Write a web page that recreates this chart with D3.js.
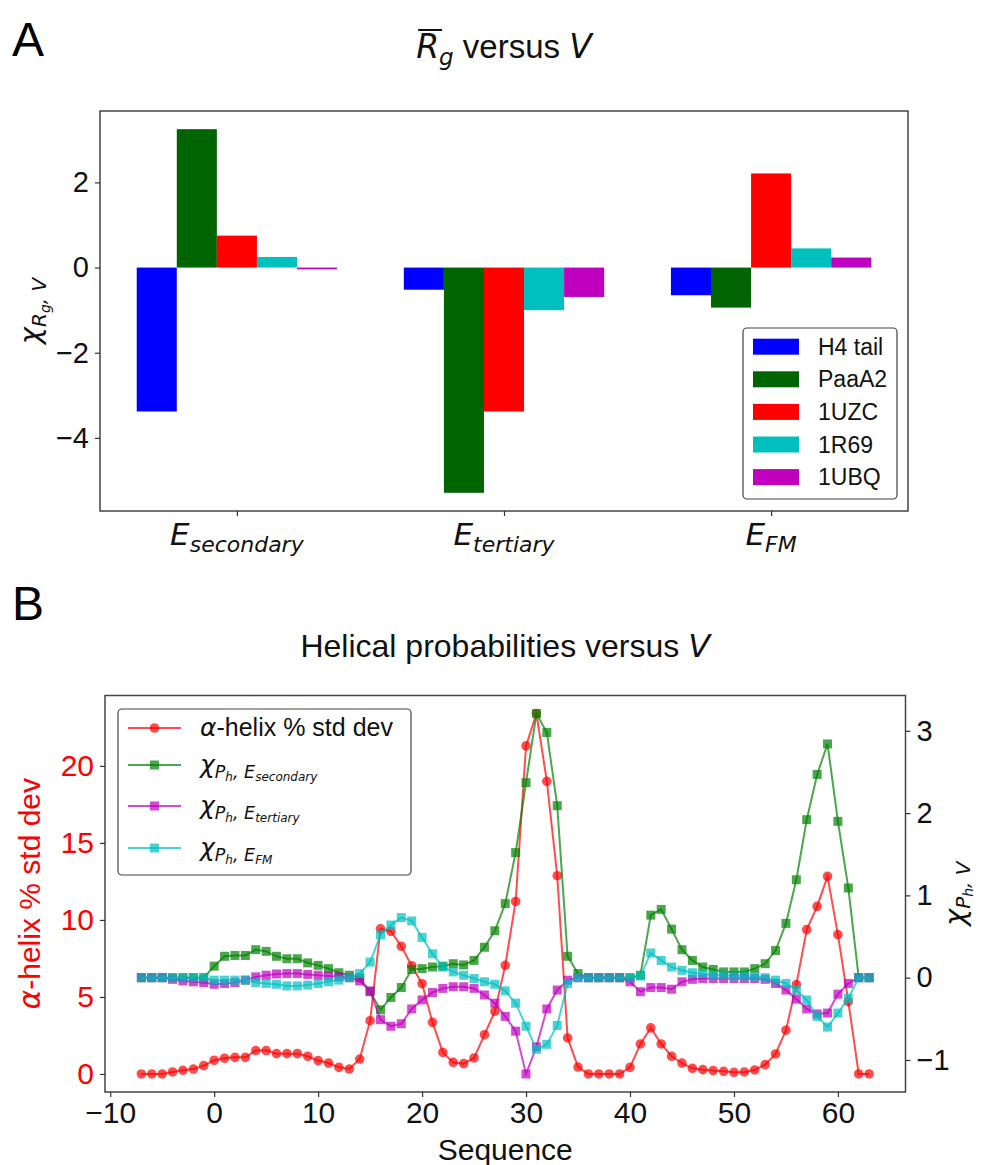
<!DOCTYPE html>
<html>
<head>
<meta charset="utf-8">
<script src="https://cdn.jsdelivr.net/npm/d3@7"></script>
<style>
body { margin: 0; background: #fff; }
</style>
</head>
<body>
<script>
// Panel A: chi_{Rg,V} for each energy term and protein
var terms = ["secondary", "tertiary", "FM"];
var proteins = ["H4 tail", "PaaA2", "1UZC", "1R69", "1UBQ"];
var h4tail = [-3.38, -0.52, -0.65];
var paaA2 = [3.25, -5.29, -0.94];
var uzc = [0.75, -3.38, 2.21];
var r69 = [0.25, -1.0, 0.45];
var ubq = [-0.04, -0.69, 0.235];
var barColors = ["#0000ff", "#006400", "#ff0000", "#00bfbf", "#bf00bf"];
var barTicks = [-4, -2, 0, 2];

// Panel B: helical probabilities along the sequence
var sequence = [-7, -6, -5, -4, -3, -2, -1, 0, 1, 2,
    3, 4, 5, 6, 7, 8, 9, 10, 11, 12,
    13, 14, 15, 16, 17, 18, 19, 20, 21, 22,
    23, 24, 25, 26, 27, 28, 29, 30, 31, 32,
    33, 34, 35, 36, 37, 38, 39, 40, 41, 42,
    43, 44, 45, 46, 47, 48, 49, 50, 51, 52,
    53, 54, 55, 56, 57, 58, 59, 60, 61, 62,
    63];
var helixStd = [0, 0, 0, 0.13, 0.24, 0.32, 0.54, 0.89, 1.02, 1.08,
    1.08, 1.52, 1.52, 1.32, 1.32, 1.32, 1.15, 0.87, 0.71, 0.43,
    0.32, 0.97, 3.46, 9.42, 9.26, 8.29, 7.03, 5.86, 3.35, 1.40,
    0.75, 0.67, 1.04, 2.55, 4.07, 7.05, 11.2, 21.3, 23.4, 19.0,
    12.87, 2.34, 0.45, 0, 0, 0, 0, 0.43, 1.95, 2.99,
    1.95, 1.15, 0.71, 0.37, 0.28, 0.22, 0.17, 0.11, 0.13, 0.26,
    0.61, 1.30, 2.84, 5.80, 9.37, 10.88, 12.83, 9.05, 4.7, 0,
    0];
var chiSecondary = [0, 0, 0, 0, 0, 0, 0, 0.14, 0.26, 0.27,
    0.27, 0.34, 0.32, 0.26, 0.23, 0.23, 0.18, 0.15, 0.11, 0.06,
    0.03, 0, -0.17, -0.39, -0.24, -0.12, 0.10, 0.11, 0.13, 0.14,
    0.17, 0.155, 0.21, 0.37, 0.57, 0.90, 1.52, 2.37, 3.21, 2.98,
    2.09, 0.26, 0.05, 0, 0, 0, 0, 0, 0.03, 0.76,
    0.83, 0.59, 0.34, 0.21, 0.13, 0.10, 0.07, 0.07, 0.07, 0.11,
    0.17, 0.33, 0.66, 1.19, 1.92, 2.47, 2.84, 1.90, 1.09, 0,
    0];
var chiTertiary = [0, 0, 0, -0.02, -0.04, -0.05, -0.06, -0.08, -0.07, -0.06,
    -0.03, 0.01, 0.03, 0.045, 0.05, 0.05, 0.04, 0.03, 0.02, 0.01,
    0, -0.04, -0.16, -0.51, -0.59, -0.56, -0.38, -0.27, -0.18, -0.13,
    -0.11, -0.11, -0.13, -0.21, -0.31, -0.47, -0.65, -1.17, -0.84, -0.38,
    -0.15, -0.03, 0, 0, 0, 0, 0, -0.05, -0.17, -0.12,
    -0.12, -0.14, -0.05, -0.02, -0.01, -0.01, -0.01, -0.01, -0.01, -0.01,
    -0.02, -0.07, -0.15, -0.26, -0.38, -0.44, -0.43, -0.2, -0.07, 0,
    0];
var chiFM = [0, 0, 0, 0, 0, 0, 0, -0.03, -0.03, -0.03,
    -0.03, -0.06, -0.07, -0.08, -0.1, -0.1, -0.09, -0.07, -0.05, -0.03,
    0, 0.05, 0.19, 0.52, 0.64, 0.73, 0.69, 0.49, 0.29, 0.13,
    0.07, 0.03, -0.01, -0.05, -0.08, -0.16, -0.31, -0.59, -0.87, -0.81,
    -0.58, -0.07, 0, 0, 0, 0, 0, 0, 0.02, 0.30,
    0.21, 0.13, 0.09, 0.06, 0.05, 0.03, 0.03, 0.02, 0.02, 0.01,
    0, -0.03, -0.07, -0.15, -0.27, -0.47, -0.6, -0.43, -0.25, 0,
    0];
var seqTicks = [-10, 0, 10, 20, 30, 40, 50, 60];
var stdTicks = [0, 5, 10, 15, 20];
var chiTicks = [-1, 0, 1, 2, 3];

var width = 986, height = 1165;
var sans = "'Liberation Sans', Arial, sans-serif";
var ital = "'DejaVu Sans', sans-serif";
var intFmt = d3.format("d");

var svg = d3.select("body").append("svg")
    .attr("width", width).attr("height", height)
    .style("font-family", sans);

// tspans for matplotlib-like mathtext (dy = shift below baseline)
function mathText(el, parts) {
    var prev = 0;
    parts.forEach(function (p) {
        var off = p.dy || 0;
        el.append("tspan").text(p.t)
            .attr("dy", off - prev)
            .attr("font-size", p.s)
            .attr("font-style", p.i ? "italic" : null)
            .attr("font-family", p.i ? ital : sans);
        prev = off;
    });
    return el;
}

function styleAxis(g, size, color) {
    g.select(".domain").remove();
    g.selectAll("line").attr("stroke", "#333").attr("stroke-width", 1.2);
    g.selectAll("text").attr("font-size", size).attr("font-family", sans).attr("fill", color);
}

// ---------------- Panel A ----------------
var a = { left: 100, right: 908, top: 111, bottom: 511 };
var allBars = [h4tail, paaA2, uzc, r69, ubq];
var bw = 0.15;
var aLo = d3.min(allBars, function (d) { return d3.min(d); });
var aHi = d3.max(allBars, function (d) { return d3.max(d); });
var aPad = (aHi - aLo) * 0.05;
var xPad = (terms.length - 1 + 5 * bw) * 0.05;

var xA = d3.scaleLinear().domain([-2.5 * bw - xPad, terms.length - 1 + 2.5 * bw + xPad]).range([a.left, a.right]);
var yA = d3.scaleLinear().domain([aLo - aPad, aHi + aPad]).range([a.bottom, a.top]);

svg.append("text").attr("x", 12).attr("y", 56).attr("font-size", 48).text("A");

var titleA = mathText(svg.append("text").attr("x", (a.left + a.right) / 2).attr("y", 58)
    .attr("text-anchor", "middle").attr("fill", "#111"), [
    { t: "R", s: 33, i: true },
    { t: "g", s: 23, i: true, dy: 7 },
    { t: " versus ", s: 33 },
    { t: "V", s: 33, i: true }
]);
// bar over R
var rExt = titleA.node().getExtentOfChar(0);
svg.append("line")
    .attr("x1", rExt.x + 2).attr("x2", rExt.x + rExt.width + 3)
    .attr("y1", rExt.y + 3).attr("y2", rExt.y + 3)
    .attr("stroke", "#111").attr("stroke-width", 2);

allBars.forEach(function (series, j) {
    svg.append("g").selectAll("rect").data(series).enter()
        .append("rect")
        .attr("x", function (d, i) { return xA(i + (j - 2) * bw - bw / 2); })
        .attr("width", xA(bw) - xA(0))
        .attr("y", function (d) { return yA(Math.max(d, 0)); })
        .attr("height", function (d) { return Math.abs(yA(d) - yA(0)); })
        .attr("fill", barColors[j]);
});

svg.append("rect").attr("x", a.left).attr("y", a.top)
    .attr("width", a.right - a.left).attr("height", a.bottom - a.top)
    .attr("fill", "none").attr("stroke", "#444").attr("stroke-width", 1.5);

var yAxisA = svg.append("g").attr("transform", "translate(" + a.left + ",0)")
    .call(d3.axisLeft(yA).tickValues(barTicks).tickFormat(intFmt).tickSize(5).tickPadding(6));
styleAxis(yAxisA, 29, "#111");

var xAxisA = svg.append("g").attr("transform", "translate(0," + a.bottom + ")")
    .call(d3.axisBottom(xA).tickValues(d3.range(terms.length)).tickFormat("").tickSize(5));
styleAxis(xAxisA, 29, "#111");

terms.forEach(function (t, i) {
    mathText(svg.append("text").attr("x", xA(i)).attr("y", 545)
        .attr("text-anchor", "middle").attr("fill", "#111"), [
        { t: "E", s: 31, i: true },
        { t: t, s: 22, i: true, dy: 7 }
    ]);
});

mathText(svg.append("text").attr("transform", "translate(40," + (a.top + a.bottom) / 2 + ") rotate(-90)")
    .attr("text-anchor", "middle").attr("fill", "#111"), [
    { t: "χ", s: 29, i: true },
    { t: "R", s: 20, i: true, dy: 6 },
    { t: "g", s: 14, i: true, dy: 10 },
    { t: ", V", s: 20, i: true, dy: 6 }
]);

// legend A
var legA = svg.append("g");
legA.append("rect").attr("x", 743).attr("y", 328).attr("width", 154).attr("height", 171)
    .attr("rx", 4).attr("fill", "#fff").attr("fill-opacity", 0.8)
    .attr("stroke", "#444").attr("stroke-width", 1.2);
proteins.forEach(function (p, j) {
    var cy = 346.7 + j * 32.6;
    legA.append("rect").attr("x", 753).attr("y", cy - 8).attr("width", 46).attr("height", 16)
        .attr("fill", barColors[j]);
    legA.append("text").attr("x", 818).attr("y", cy + 8).attr("font-size", 23)
        .attr("fill", "#111").text(p);
});

// ---------------- Panel B ----------------
var b = { left: 105, right: 905.5, top: 695.5, bottom: 1092 };
var chiSeries = [chiSecondary, chiTertiary, chiFM];
var chiColors = ["#008000", "#bf00bf", "#00bfbf"];

var sPad = (d3.max(sequence) - d3.min(sequence)) * 0.05;
var xB = d3.scaleLinear().domain([d3.min(sequence) - sPad, d3.max(sequence) + sPad]).range([b.left, b.right]);
var hPad = (d3.max(helixStd) - d3.min(helixStd)) * 0.05;
var yL = d3.scaleLinear().domain([d3.min(helixStd) - hPad, d3.max(helixStd) + hPad]).range([b.bottom, b.top]);
var cLo = d3.min(chiSeries, function (d) { return d3.min(d); });
var cHi = d3.max(chiSeries, function (d) { return d3.max(d); });
var cPad = (cHi - cLo) * 0.05;
var yR = d3.scaleLinear().domain([cLo - cPad, cHi + cPad]).range([b.bottom, b.top]);

svg.append("text").attr("x", 12).attr("y", 620).attr("font-size", 48).text("B");

mathText(svg.append("text").attr("x", (b.left + b.right) / 2).attr("y", 657)
    .attr("text-anchor", "middle").attr("fill", "#111"), [
    { t: "Helical probabilities versus ", s: 32 },
    { t: "V", s: 32, i: true }
]);

// red series on left axis
var lineL = d3.line().x(function (d, i) { return xB(sequence[i]); }).y(function (d) { return yL(d); });
var redG = svg.append("g");
redG.append("path").datum(helixStd).attr("d", lineL)
    .attr("fill", "none").attr("stroke", "#ff0000").attr("stroke-opacity", 0.7).attr("stroke-width", 2);
redG.selectAll("circle").data(helixStd).enter().append("circle")
    .attr("cx", function (d, i) { return xB(sequence[i]); })
    .attr("cy", function (d) { return yL(d); })
    .attr("r", 4.8).attr("fill", "#ff0000").attr("fill-opacity", 0.7);

// chi series on right axis
var lineR = d3.line().x(function (d, i) { return xB(sequence[i]); }).y(function (d) { return yR(d); });
chiSeries.forEach(function (series, k) {
    var g = svg.append("g");
    g.append("path").datum(series).attr("d", lineR)
        .attr("fill", "none").attr("stroke", chiColors[k]).attr("stroke-opacity", 0.7).attr("stroke-width", 2);
    g.selectAll("rect").data(series).enter().append("rect")
        .attr("x", function (d, i) { return xB(sequence[i]) - 4.5; })
        .attr("y", function (d) { return yR(d) - 4.5; })
        .attr("width", 9).attr("height", 9)
        .attr("fill", chiColors[k]).attr("fill-opacity", 0.7);
});

svg.append("rect").attr("x", b.left).attr("y", b.top)
    .attr("width", b.right - b.left).attr("height", b.bottom - b.top)
    .attr("fill", "none").attr("stroke", "#444").attr("stroke-width", 1.5);

var yAxisL = svg.append("g").attr("transform", "translate(" + b.left + ",0)")
    .call(d3.axisLeft(yL).tickValues(stdTicks).tickFormat(intFmt).tickSize(5).tickPadding(6));
styleAxis(yAxisL, 30, "#ff0000");

var yAxisR = svg.append("g").attr("transform", "translate(" + b.right + ",0)")
    .call(d3.axisRight(yR).tickValues(chiTicks).tickFormat(intFmt).tickSize(5).tickPadding(6));
styleAxis(yAxisR, 29, "#111");

var xAxisB = svg.append("g").attr("transform", "translate(0," + b.bottom + ")")
    .call(d3.axisBottom(xB).tickValues(seqTicks).tickFormat(intFmt).tickSize(5).tickPadding(5));
styleAxis(xAxisB, 30, "#111");

svg.append("text").attr("x", (b.left + b.right) / 2).attr("y", 1160)
    .attr("text-anchor", "middle").attr("font-size", 30).attr("fill", "#111").text("Sequence");

mathText(svg.append("text").attr("transform", "translate(40," + (b.top + b.bottom) / 2 + ") rotate(-90)")
    .attr("text-anchor", "middle").attr("fill", "#ff0000"), [
    { t: "α", s: 30, i: true },
    { t: "-helix % std dev", s: 30 }
]);

mathText(svg.append("text").attr("transform", "translate(965," + (b.top + b.bottom) / 2 + ") rotate(-90)")
    .attr("text-anchor", "middle").attr("fill", "#111"), [
    { t: "χ", s: 29, i: true },
    { t: "P", s: 20, i: true, dy: 5 },
    { t: "h", s: 14, i: true, dy: 8 },
    { t: ", V", s: 20, i: true, dy: 5 }
]);

// legend B
var legB = svg.append("g");
legB.append("rect").attr("x", 118).attr("y", 709).attr("width", 293).attr("height", 166)
    .attr("rx", 4).attr("fill", "#fff").attr("fill-opacity", 0.8)
    .attr("stroke", "#444").attr("stroke-width", 1.2);
var legRows = [728, 765, 806, 848];
var legColors = ["#ff0000"].concat(chiColors);
var legLabels = [
    [{ t: "α", s: 25, i: true }, { t: "-helix % std dev", s: 25 }],
    [{ t: "χ", s: 25, i: true }, { t: "P", s: 17.5, i: true, dy: 5 }, { t: "h", s: 12, i: true, dy: 8 },
     { t: ", E", s: 17.5, i: true, dy: 5 }, { t: "secondary", s: 12, i: true, dy: 8 }],
    [{ t: "χ", s: 25, i: true }, { t: "P", s: 17.5, i: true, dy: 5 }, { t: "h", s: 12, i: true, dy: 8 },
     { t: ", E", s: 17.5, i: true, dy: 5 }, { t: "tertiary", s: 12, i: true, dy: 8 }],
    [{ t: "χ", s: 25, i: true }, { t: "P", s: 17.5, i: true, dy: 5 }, { t: "h", s: 12, i: true, dy: 8 },
     { t: ", E", s: 17.5, i: true, dy: 5 }, { t: "FM", s: 12, i: true, dy: 8 }]
];
legRows.forEach(function (cy, k) {
    legB.append("line").attr("x1", 128).attr("x2", 181).attr("y1", cy).attr("y2", cy)
        .attr("stroke", legColors[k]).attr("stroke-opacity", 0.7).attr("stroke-width", 2);
    if (k === 0) {
        legB.append("circle").attr("cx", 154.5).attr("cy", cy).attr("r", 4.8)
            .attr("fill", legColors[k]).attr("fill-opacity", 0.7);
    } else {
        legB.append("rect").attr("x", 150).attr("y", cy - 4.5).attr("width", 9).attr("height", 9)
            .attr("fill", legColors[k]).attr("fill-opacity", 0.7);
    }
    mathText(legB.append("text").attr("x", 200).attr("y", cy + 8).attr("fill", "#111"), legLabels[k]);
});
</script>
</body>
</html>
